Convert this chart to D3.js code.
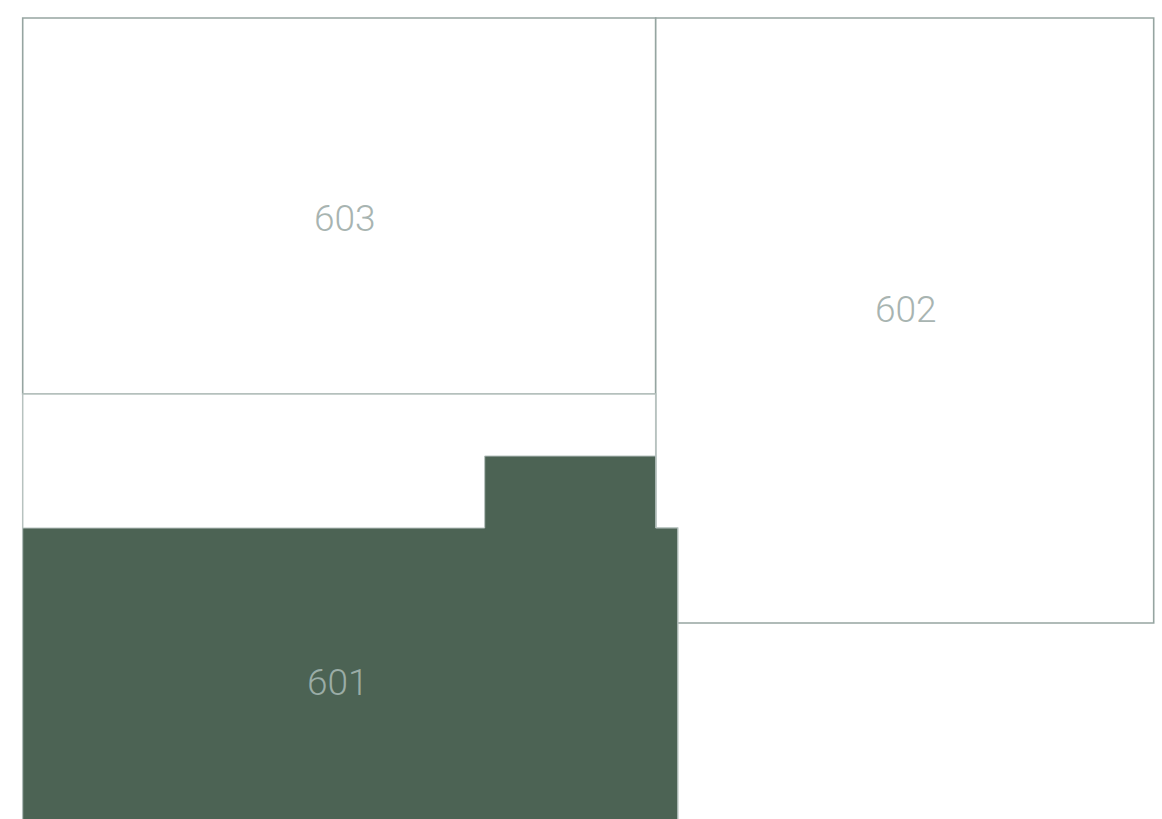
<!DOCTYPE html>
<html>
<head>
<meta charset="utf-8">
<script src="https://cdn.jsdelivr.net/npm/d3@7"></script>
<style>
  html, body { margin: 0; padding: 0; background: #ffffff; }
  svg { display: block; }
</style>
</head>
<body>
<script>
// ---- data (plan units) ----
const roomNames = ["603", "602"];
const roomPolygons = [
  [[0, 0], [633, 0], [633, 376], [0, 376]],
  [[633, 0], [1131, 0], [1131, 605], [633, 605]]
];
const zoneOutline601 = [[0, 376], [633, 376], [633, 510], [655, 510], [655, 810], [0, 810]];
const zoneFill601 = [[0, 510], [462, 510], [462, 438], [633, 438], [633, 510], [655, 510], [655, 810], [0, 810]];
const labelNames = ["603", "602", "601"];
const labelPoints = [[322, 213], [883, 304], [315, 677]];

const W = 1162, H = 819;
const x = d3.scaleLinear().domain([0, 1131]).range([22.7, 1153.7]);
const y = d3.scaleLinear().domain([0, 605]).range([18, 623]);

const svg = d3.select("body").append("svg").attr("width", W).attr("height", H);
const line = d3.line().x(d => x(d[0])).y(d => y(d[1]));
const closed = pts => line(pts) + "Z";

// rooms
svg.selectAll("path.room").data(roomPolygons).enter().append("path")
  .attr("class", "room")
  .attr("d", d => closed(d))
  .attr("fill", "#ffffff").attr("stroke", "#96a5a1").attr("stroke-width", 1.6);

// 601 outline
svg.append("path").attr("d", closed(zoneOutline601))
  .attr("fill", "#ffffff").attr("stroke", "#b7c2bf").attr("stroke-width", 1.5);
// 601 filled area
svg.append("path").attr("d", closed(zoneFill601))
  .attr("fill", "#4c6354").attr("stroke", "#b7c2bf").attr("stroke-width", 1);

// labels
svg.selectAll("text.lbl").data(labelNames).enter().append("text")
  .attr("class", "lbl")
  .attr("x", (d, i) => x(labelPoints[i][0]))
  .attr("y", (d, i) => y(labelPoints[i][1]))
  .attr("text-anchor", "middle")
  .attr("font-family", "Roboto, 'Open Sans', sans-serif")
  .attr("font-weight", 300)
  .attr("font-size", 37)
  .attr("fill", d => d === "601" ? "#9aaca6" : "#a8b4b1")
  .text(d => d);
</script>
</body>
</html>
